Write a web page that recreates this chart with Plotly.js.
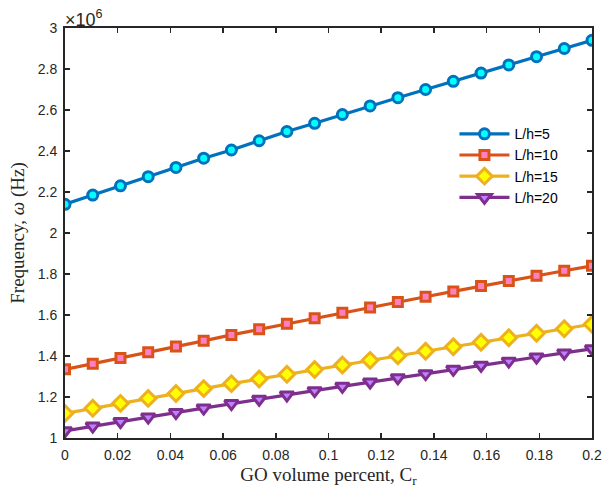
<!DOCTYPE html>
<html><head><meta charset="utf-8">
<script src="https://cdn.plot.ly/plotly-3.0.1.min.js"></script>
<style>body{margin:0;background:#fff}#c{width:603px;height:497px}</style>
</head><body><div id="c"></div>
<script>
var cr = [0,0.010526,0.021053,0.031579,0.042105,0.052632,0.063158,0.073684,0.084211,0.094737,0.105263,0.115789,0.126316,0.136842,0.147368,0.157895,0.168421,0.178947,0.189474,0.2];
var lh5  = [2.14,2.185,2.23,2.275,2.32,2.365,2.405,2.45,2.495,2.535,2.578,2.62,2.66,2.70,2.74,2.78,2.82,2.86,2.90,2.94];
var lh10 = [1.335,1.362,1.39,1.418,1.446,1.474,1.503,1.53,1.557,1.584,1.611,1.637,1.663,1.689,1.715,1.741,1.766,1.791,1.816,1.84];
var lh15 = [1.12,1.145,1.169,1.193,1.217,1.241,1.265,1.288,1.311,1.334,1.356,1.379,1.401,1.423,1.445,1.467,1.489,1.511,1.533,1.555];
var lh20 = [1.035,1.058,1.08,1.102,1.124,1.146,1.168,1.189,1.21,1.231,1.252,1.273,1.294,1.314,1.335,1.355,1.375,1.395,1.415,1.435];
var names = ['L/h=5','L/h=10','L/h=15','L/h=20'];
var xTicks = [0,0.02,0.04,0.06,0.08,0.1,0.12,0.14,0.16,0.18,0.2];
var xTickText = ['0','0.02','0.04','0.06','0.08','0.1','0.12','0.14','0.16','0.18','0.2'];
var yTicks = [1,1.2,1.4,1.6,1.8,2,2.2,2.4,2.6,2.8,3];
var yTickText = ['1','1.2','1.4','1.6','1.8','2','2.2','2.4','2.6','2.8','3'];

var series = [lh5,lh10,lh15,lh20];
var lineCol = ['#0072BD','#D95319','#EDB120','#7E2F8E'];
var faceCol = ['#00FFFF','#FF80C0','#FFFF00','#C080FF'];
var sym = ['circle','square','diamond','triangle-down'];
var msz = [10,9,12,12];
var traces = series.map(function(s,i){
  return {x:cr, y:s, name:names[i], type:'scatter', mode:'lines+markers',
    line:{color:lineCol[i], width:3.2},
    marker:{symbol:sym[i], size:msz[i], color:faceCol[i], line:{color:lineCol[i], width:3}}};
});
var tickFont = {family:'Liberation Sans, Arial', size:14, color:'#262626'};
var titleFont = {family:'Liberation Serif, Times New Roman', size:19, color:'#262626'};
var layout = {
  width:603, height:497,
  margin:{l:65, r:11, t:28, b:59},
  paper_bgcolor:'#fff', plot_bgcolor:'#fff',
  showlegend:true,
  legend:{x:0.739, y:0.78, xanchor:'left', yanchor:'top', bgcolor:'rgba(0,0,0,0)', itemwidth:50,
    font:{family:'Liberation Sans, Arial', size:14, color:'#000'}, tracegroupgap:0},
  xaxis:{range:[0,0.2], tickvals:xTicks, ticktext:xTickText, ticks:'inside', ticklen:5, tickwidth:1.5,
    tickcolor:'#262626', showline:true, linecolor:'#262626', linewidth:2, mirror:'ticks', showgrid:false, zeroline:false,
    tickfont:tickFont, ticklabelstandoff:3,
    title:{text:'GO volume percent, C<sub>r</sub>', font:titleFont, standoff:6}},
  yaxis:{range:[1,3], tickvals:yTicks, ticktext:yTickText, ticks:'inside', ticklen:5, tickwidth:1.5,
    tickcolor:'#262626', showline:true, linecolor:'#262626', linewidth:2, mirror:'ticks', showgrid:false, zeroline:false,
    tickfont:tickFont, ticklabelstandoff:3,
    title:{text:'Frequency, <i>ω</i> (Hz)', font:titleFont, standoff:8}},
  annotations:[{xref:'paper', yref:'paper', x:0, y:1, xanchor:'left', yanchor:'bottom', showarrow:false,
    text:'×10<sup>6</sup>', font:{family:'Liberation Sans, Arial', size:18, color:'#262626'}, xshift:-2, yshift:-4}]
};
Plotly.newPlot('c', traces, layout, {displayModeBar:false, staticPlot:true});
</script></body></html>
